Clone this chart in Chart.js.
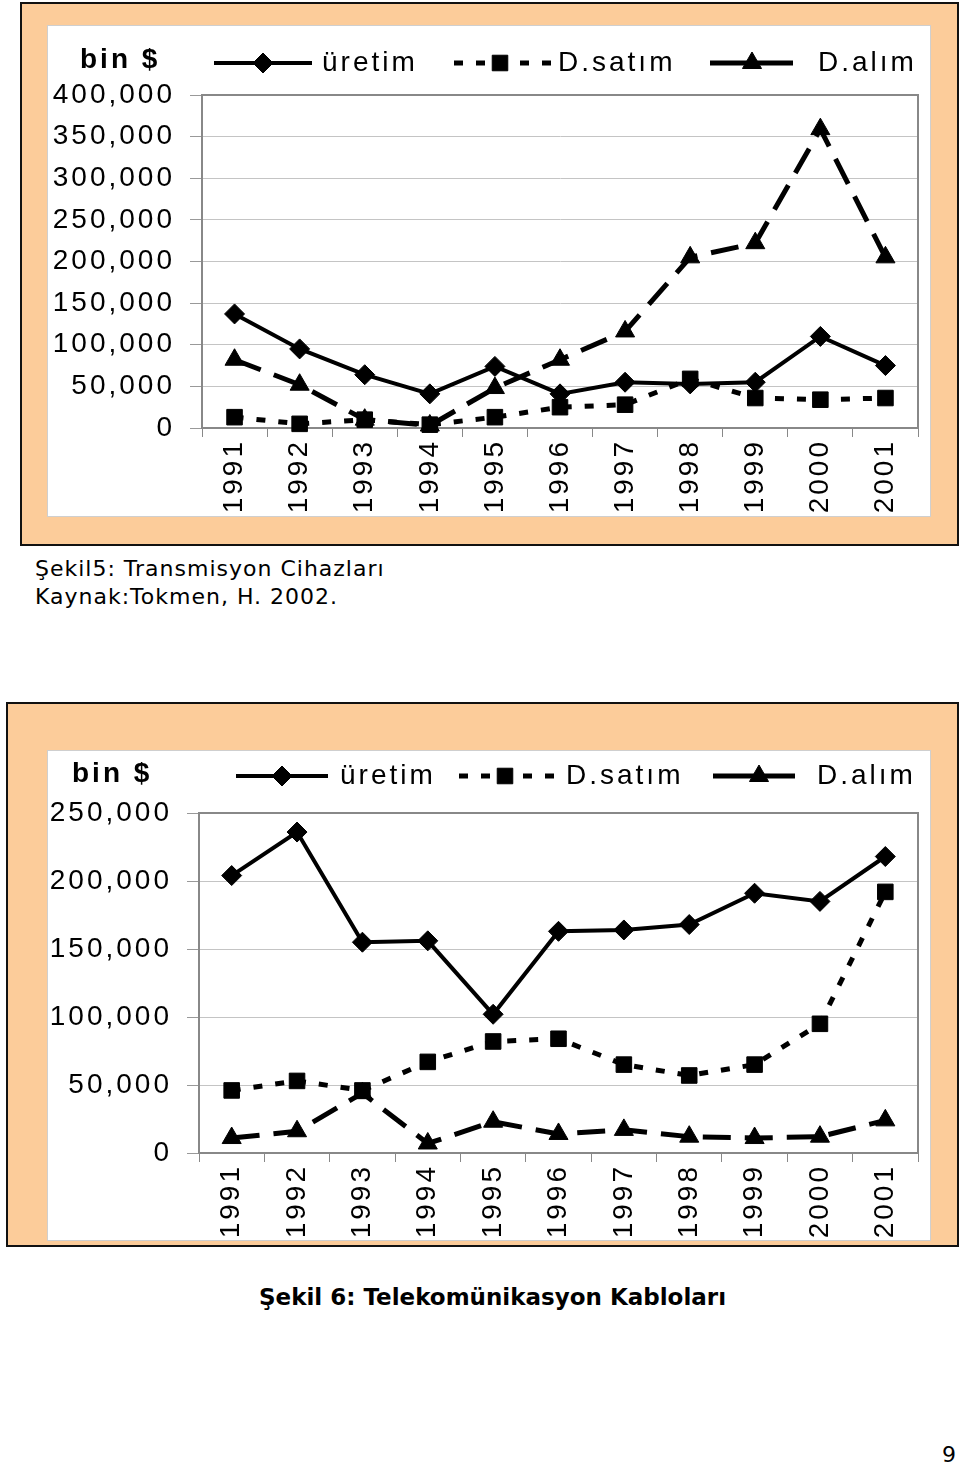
<!DOCTYPE html>
<html lang="tr">
<head>
<meta charset="utf-8">
<title>Şekil 5 / Şekil 6</title>
<script src="https://cdn.jsdelivr.net/npm/chart.js@4.4.1/dist/chart.umd.min.js"></script>
<style>
    html, body { margin: 0; padding: 0; background: #fff; }
    body { position: relative; width: 960px; height: 1467px; overflow: hidden; font-family: "DejaVu Sans", Verdana, sans-serif; color: #000; }
    .frame { position: absolute; background: #fccc9a; border: 2px solid #111; box-sizing: border-box; }
    canvas { position: absolute; background: #fff; box-shadow: 0 0 0 1px #cfcfcf; }
    .caption { position: absolute; font-size: 22px; line-height: 28px; letter-spacing: 1px; white-space: nowrap; }
    .caption6 { position: absolute; font-size: 23px; line-height: 23px; font-weight: bold; white-space: nowrap; }
    .page { position: absolute; font-size: 22px; line-height: 22px; }
</style>
</head>
<body>

<div class="frame" style="left:20px; top:2px; width:939px; height:544px;"></div>
<canvas id="chart5" width="882" height="490" style="left:48px; top:26px; width:882px; height:490px;"></canvas>

<div class="caption" style="left:35px; top:555px;">Şekil5: Transmisyon Cihazları<br>Kaynak:Tokmen, H. 2002.</div>

<div class="frame" style="left:6px; top:702px; width:953px; height:545px;"></div>
<canvas id="chart6" width="882" height="489" style="left:48px; top:751px; width:882px; height:489px;"></canvas>

<div class="caption6" style="left:259px; top:1286px;">Şekil 6: Telekomünikasyon Kabloları</div>

<div class="page" style="left:942px; top:1444px;">9</div>

<script>
const years = ['1991', '1992', '1993', '1994', '1995', '1996', '1997', '1998', '1999', '2000', '2001'];
const seriesNames = ['üretim', 'D.satım', 'D.alım'];

// Şekil 5: Transmisyon Cihazları (bin $)
const uretim5 = [137000, 95000, 64000, 41000, 74000, 41000, 55000, 53000, 55000, 110000, 75000];
const satim5 = [13000, 5000, 10000, 4000, 13000, 25000, 28000, 59000, 36000, 34000, 36000];
const alim5 = [82000, 52000, 10000, 3000, 48000, 82000, 116000, 205000, 222000, 359000, 205000];
const yTicks5 = [0, 50000, 100000, 150000, 200000, 250000, 300000, 350000, 400000];

// Şekil 6: Telekomünikasyon Kabloları (bin $)
const uretim6 = [204000, 236000, 155000, 156000, 102000, 163000, 164000, 168000, 191000, 185000, 218000];
const satim6 = [46000, 53000, 46000, 67000, 82000, 84000, 65000, 57000, 65000, 95000, 192000];
const alim6 = [11000, 16000, 44000, 7000, 23000, 14000, 17000, 12000, 11000, 12000, 24000];
const yTicks6 = [0, 50000, 100000, 150000, 200000, 250000];

const FONT = '"Liberation Sans", Arial, sans-serif';
const SPACING = '3px';

const styles = [
    { borderWidth: 4, borderDash: [], pointStyle: 'rectRot', pointRadius: 10 },
    { borderWidth: 5, borderDash: [9, 13], pointStyle: 'rect', pointRadius: 11 },
    { borderWidth: 5, borderDash: [28, 14], pointStyle: 'triangle', pointRadius: 11 }
];

// the scanned charts use wide letter spacing
const spacingPlugin = {
    id: 'spacing',
    beforeUpdate(chart) { chart.ctx.letterSpacing = SPACING; },
    beforeDraw(chart) { chart.ctx.letterSpacing = SPACING; }
};

// grey frame on top and right of the plot area
const framePlugin = {
    id: 'frame',
    beforeDatasetsDraw(chart) {
        const { ctx, chartArea: a } = chart;
        ctx.save();
        ctx.strokeStyle = '#888';
        ctx.lineWidth = 2;
        ctx.beginPath();
        ctx.moveTo(a.left, a.top);
        ctx.lineTo(a.right, a.top);
        ctx.lineTo(a.right, a.bottom);
        ctx.stroke();
        ctx.restore();
    }
};

function drawMarker(ctx, style, radius, x, y) {
    ctx.setLineDash([]);
    ctx.fillStyle = '#000';
    ctx.strokeStyle = '#000';
    ctx.lineWidth = 1;
    Chart.helpers.drawPoint(ctx, { pointStyle: style, radius: radius, rotation: 0, borderWidth: 1 }, x, y);
}

// Excel style legend: "bin $" plus line samples with markers
const legendPlugin = {
    id: 'excelLegend',
    afterDraw(chart, args, opts) {
        const ctx = chart.ctx;
        ctx.save();
        ctx.letterSpacing = SPACING;
        ctx.fillStyle = '#000';
        ctx.textBaseline = 'middle';
        ctx.textAlign = 'left';
        ctx.font = 'bold 28px ' + FONT;
        ctx.fillText('bin $', opts.binX, opts.binY);

        ctx.font = '28px ' + FONT;
        opts.items.forEach((it, i) => {
            const st = styles[i];
            ctx.strokeStyle = '#000';
            ctx.lineWidth = st.borderWidth;
            ctx.lineCap = 'butt';
            if (i === 1) {
                ctx.setLineDash([9, 13]);
                ctx.beginPath();
                ctx.moveTo(it.x1, opts.y);
                ctx.lineTo(it.mx, opts.y);
                ctx.stroke();
                ctx.beginPath();
                ctx.moveTo(it.x2, opts.y);
                ctx.lineTo(it.mx, opts.y);
                ctx.stroke();
            } else {
                ctx.setLineDash([]);
                ctx.beginPath();
                ctx.moveTo(it.x1, opts.y);
                ctx.lineTo(it.x2, opts.y);
                ctx.stroke();
            }
            drawMarker(ctx, st.pointStyle, st.pointRadius, it.mx, opts.y);
            ctx.fillStyle = '#000';
            ctx.fillText(seriesNames[i], it.tx, opts.y);
        });
        ctx.restore();
    }
};

function makeChart(id, values, yTicks, layout) {
    const datasets = values.map((data, i) => ({
        label: seriesNames[i],
        data: data,
        borderColor: '#000',
        backgroundColor: '#000',
        pointBackgroundColor: '#000',
        pointBorderColor: '#000',
        pointBorderWidth: 1,
        borderWidth: styles[i].borderWidth,
        borderDash: styles[i].borderDash,
        pointStyle: styles[i].pointStyle,
        pointRadius: styles[i].pointRadius,
        tension: 0,
        fill: false,
        clip: false
    }));

    return new Chart(document.getElementById(id), {
        type: 'line',
        data: { labels: years, datasets: datasets },
        options: {
            responsive: false,
            animation: false,
            devicePixelRatio: 1,
            layout: { padding: { top: layout.top, right: layout.right, bottom: 0, left: 0 } },
            plugins: {
                legend: { display: false },
                tooltip: { enabled: false },
                excelLegend: layout.legend
            },
            scales: {
                x: {
                    offset: true,
                    grid: { offset: true, drawOnChartArea: false, drawTicks: true, tickLength: 9, color: '#888', lineWidth: 1 },
                    border: { display: true, color: '#888', width: 2 },
                    ticks: { autoSkip: false, minRotation: 90, maxRotation: 90, padding: 2, color: '#000', font: { family: FONT, size: 28 } },
                    afterFit(scale) { scale.height = layout.xHeight; }
                },
                y: {
                    min: yTicks[0],
                    max: yTicks[yTicks.length - 1],
                    afterBuildTicks(scale) { scale.ticks = yTicks.map(v => ({ value: v })); },
                    grid: { color: '#c4c4c4', lineWidth: 1, tickLength: 12, tickColor: '#999' },
                    border: { display: true, color: '#888', width: 2 },
                    ticks: {
                        padding: 15,
                        color: '#000',
                        font: { family: FONT, size: 28 },
                        callback: v => v.toLocaleString('en-US')
                    },
                    afterFit(scale) { scale.width = layout.yWidth; }
                }
            }
        },
        plugins: [spacingPlugin, framePlugin, legendPlugin]
    });
}

makeChart('chart5', [uretim5, satim5, alim5], yTicks5, {
    top: 69, right: 1, xHeight: 88, yWidth: 154,
    legend: {
        binX: 32, binY: 34, y: 37,
        items: [
            { x1: 166, x2: 264, mx: 215, tx: 274 },
            { x1: 406, x2: 503, mx: 452, tx: 510 },
            { x1: 662, x2: 745, mx: 704, tx: 770 }
        ]
    }
});

makeChart('chart6', [uretim6, satim6, alim6], yTicks6, {
    top: 62, right: 0, xHeight: 87, yWidth: 151,
    legend: {
        binX: 24, binY: 23, y: 25,
        items: [
            { x1: 188, x2: 280, mx: 234, tx: 292 },
            { x1: 411, x2: 506, mx: 457, tx: 518 },
            { x1: 665, x2: 747, mx: 711, tx: 769 }
        ]
    }
});
</script>
</body>
</html>
